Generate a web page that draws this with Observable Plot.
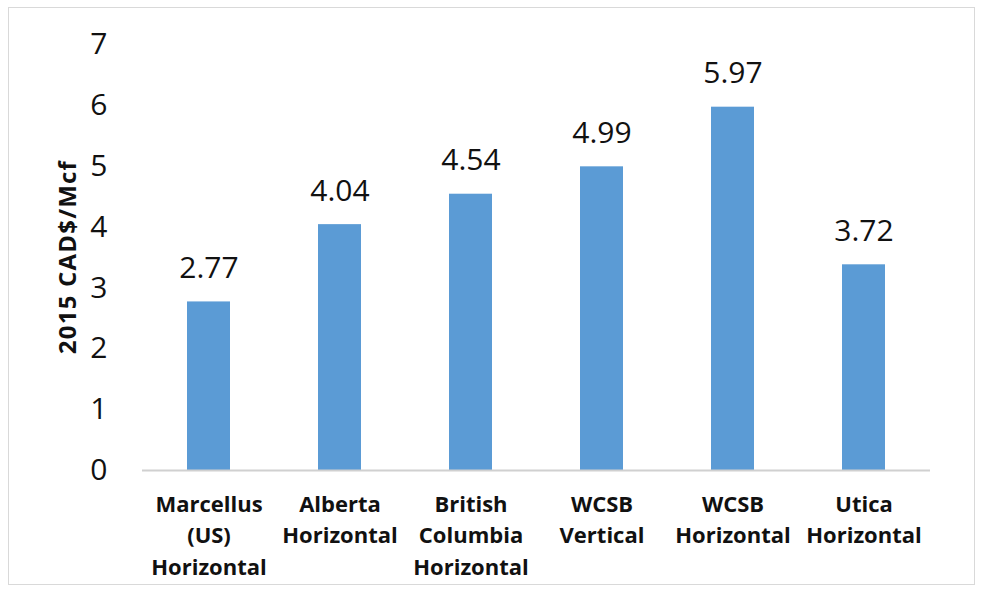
<!DOCTYPE html>
<html>
<head>
<meta charset="utf-8">
<script src="https://cdn.jsdelivr.net/npm/d3@7"></script>
<script src="https://cdn.jsdelivr.net/npm/@observablehq/plot@0.6"></script>
<style>
  html, body { margin: 0; padding: 0; background: #fff; }
  #frame { position: absolute; left: 8px; top: 7px; width: 967px; height: 578px; border: 1px solid #d9d9d9; box-sizing: border-box; pointer-events: none; }
  #chart { position: absolute; left: 0; top: 0; }
  #ytitle { position: absolute; left: 66px; top: 257px; transform: translate(-50%, -50%) rotate(-90deg); font: bold 24px "Open Sans", sans-serif; letter-spacing: 1.2px; color: #111; white-space: nowrap; }
</style>
</head>
<body>
<div id="chart"></div>
<div id="ytitle">2015 CAD$/Mcf</div>
<div id="frame"></div>
<script>
const categories = ["Marcellus\n(US)\nHorizontal", "Alberta\nHorizontal", "British\nColumbia\nHorizontal", "WCSB\nVertical", "WCSB\nHorizontal", "Utica\nHorizontal"];
const barValues = [2.77, 4.04, 4.54, 4.99, 5.97, 3.38];
const valueLabels = ["2.77", "4.04", "4.54", "4.99", "5.97", "3.72"];
const yTicks = [0, 1, 2, 3, 4, 5, 6, 7];

const data = categories.map((c, i) => ({cat: c, value: barValues[i], label: valueLabels[i]}));
const font = "'Open Sans', sans-serif";

const chart = Plot.plot({
  width: 987,
  height: 597,
  marginLeft: 142,
  marginRight: 57,
  marginTop: 44,
  marginBottom: 127,
  style: {fontFamily: font, background: "transparent", color: "#111"},
  x: {domain: categories, paddingInner: 0.67, paddingOuter: 0.34, label: null},
  y: {domain: [0, 7], label: null},
  marks: [
    Plot.barY(data, {x: "cat", y: "value", fill: "#5b9bd5"}),
    Plot.ruleY([0], {stroke: "#d0d0d0", strokeWidth: 2}),
    Plot.text(data, {x: "cat", y: "value", text: "label", lineAnchor: "bottom", dy: -24, fontSize: 30, fill: "#111"}),
    Plot.axisY({ticks: yTicks, tickSize: 0, tickPadding: 35, fontSize: 30, label: null, tickFormat: d => String(d)}),
    Plot.axisX({tickSize: 0, tickPadding: 19, fontSize: 22, fontWeight: "bold", lineHeight: 1.43, label: null})
  ]
});
document.getElementById("chart").appendChild(chart);
</script>
</body>
</html>
